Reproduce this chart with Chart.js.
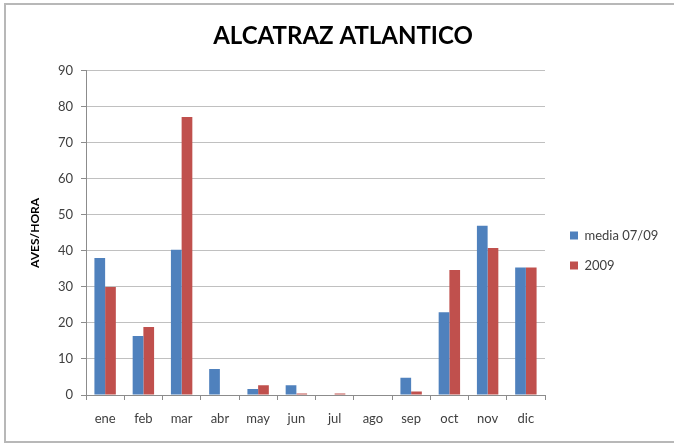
<!DOCTYPE html>
<html>
<head>
<meta charset="utf-8">
<script src="https://cdn.jsdelivr.net/npm/chart.js@4"></script>
<style>
html,body{margin:0;padding:0;background:#fff;}
#wrap{position:relative;width:674px;height:447px;}
#frame{position:absolute;left:4px;top:3px;width:680px;height:440px;border:2px solid #b8b8b8;box-sizing:border-box;pointer-events:none;}
canvas{position:absolute;left:0;top:0;}
</style>
</head>
<body>
<div id="wrap">
<canvas id="c" width="674" height="447"></canvas>
<div id="frame"></div>
</div>
<script>
const categories = ['ene','feb','mar','abr','may','jun','jul','ago','sep','oct','nov','dic'];
const media0709 = [38, 16.4, 40.3, 7.2, 1.7, 2.7, 0, 0, 4.8, 23, 47, 35.4];
const y2009 = [30, 18.9, 77.2, 0, 2.7, 0.4, 0.4, 0, 1, 34.7, 40.8, 35.4];
const seriesNames = ['media 07/09', '2009'];
const yTicks = [0,10,20,30,40,50,60,70,80,90];

const FONT = 'Lato, "Liberation Sans", sans-serif';

const legendPlugin = {
  id: 'legendFix',
  afterInit(chart) {
    const lg = chart.legend;
    const origFit = lg.fit.bind(lg);
    lg.fit = function() { origFit(); this.width = 674 - 545; this.minSize = {width: this.width, height: this.height}; };
  },
  afterUpdate(chart) {
    const lg = chart.legend;
    if (lg) { lg.left += 8; lg.right += 8; lg.top += 27; lg.bottom += 27; }
    const tb = chart.titleBlock;
    if (tb) { tb.left -= 16; tb.right -= 0; }
  }
};

new Chart(document.getElementById('c'), {
  type: 'bar',
  data: {
    labels: categories,
    datasets: [
      { label: seriesNames[0], data: media0709, backgroundColor: '#4F81BD', borderWidth: 0, categoryPercentage: 0.56, barPercentage: 1 },
      { label: seriesNames[1], data: y2009, backgroundColor: '#C0504D', borderWidth: 0, categoryPercentage: 0.56, barPercentage: 1 }
    ]
  },
  plugins: [legendPlugin],
  options: {
    responsive: false,
    animation: false,
    layout: { padding: { left: 28, right: 0, top: 0, bottom: 0 } },
    plugins: {
      title: {
        display: true,
        text: 'ALCATRAZ ATLANTICO',
        color: '#000',
        font: { family: FONT, size: 24, weight: 'bold' },
        padding: { top: 22, bottom: 20 }
      },
      legend: {
        position: 'right',
        labels: {
          boxWidth: 8, boxHeight: 8, padding: 17,
          color: '#404040',
          font: { family: FONT, size: 13 }
        }
      },
      tooltip: { enabled: false }
    },
    scales: {
      x: {
        grid: { display: true, drawOnChartArea: false, offset: true, tickLength: 5, color: '#8c8c8c' },
        border: { color: '#8c8c8c' },
        ticks: { color: '#404040', font: { family: FONT, size: 13 }, padding: 11 },
        afterFit(s) { s.height = 52; }
      },
      y: {
        min: 0, max: 90,
        afterBuildTicks(s) { s.ticks = yTicks.map(v => ({ value: v })); },
        grid: { color: '#c0c0c0', tickLength: 5, tickColor: '#8c8c8c' },
        border: { color: '#8c8c8c' },
        ticks: { color: '#404040', font: { family: FONT, size: 13 }, padding: 8 },
        title: {
          display: true, text: 'AVES/HORA', color: '#000',
          font: { family: FONT, size: 12, weight: 'bold' }, padding: { top: 0, bottom: 0 }
        },
        afterFit(s) { s.width = 86 - 28; }
      }
    }
  }
});
</script>
</body>
</html>
